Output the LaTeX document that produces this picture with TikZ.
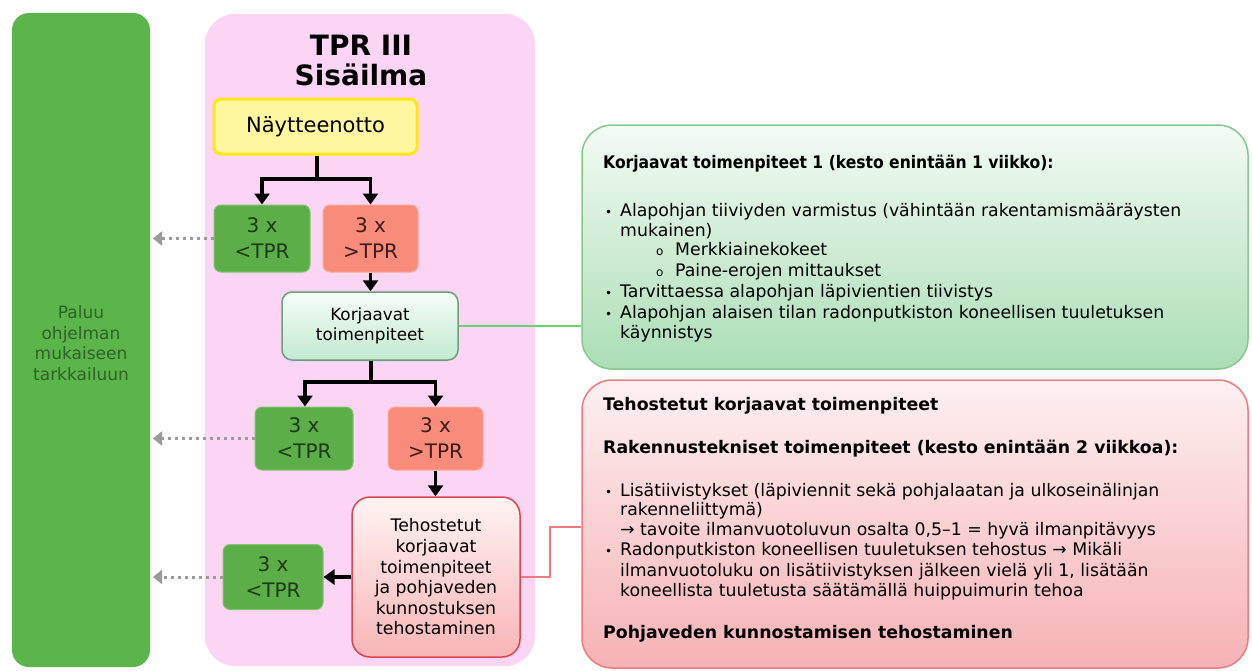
\documentclass[tikz,border=0pt]{standalone}
\usepackage{fontspec}
\setmainfont{DejaVu Sans}
\newfontfamily\hfont[FakeStretch=0.9]{DejaVu Sans}
\usetikzlibrary{arrows.meta}
\definecolor{pinkbg}{HTML}{FBD5F3}
\definecolor{colgreen}{HTML}{5CB54A}
\definecolor{coltext}{HTML}{2F6128}
\definecolor{boxgreen}{HTML}{5BAE48}
\definecolor{boxgreenline}{HTML}{80C66E}
\definecolor{boxred}{HTML}{F98B7B}
\definecolor{boxredline}{HTML}{FBA898}
\definecolor{gtext}{HTML}{1E3A18}
\definecolor{rtext}{HTML}{3B1C17}
\definecolor{yfill}{HTML}{FFF6A0}
\definecolor{yline}{HTML}{FFE619}
\definecolor{korTop}{HTML}{F6FDF8}
\definecolor{korBot}{HTML}{C2EAD1}
\definecolor{korLine}{HTML}{6E9E7E}
\definecolor{tehTop}{HTML}{FFF3F3}
\definecolor{tehBot}{HTML}{F8B5B6}
\definecolor{tehLine}{HTML}{D8454F}
\definecolor{gpTop}{HTML}{F3FBF5}
\definecolor{gpBot}{HTML}{ABDEB5}
\definecolor{gpLine}{HTML}{86C88E}
\definecolor{rpTop}{HTML}{FDF0F1}
\definecolor{rpBot}{HTML}{F6B2B5}
\definecolor{rpLine}{HTML}{EE7B7F}
\definecolor{dotgray}{HTML}{9A9A9A}
\tikzset{
  flow/.style={line width=3.2pt, draw=black, -{Triangle[length=11pt,width=15pt]}},
  flowline/.style={line width=3.2pt, draw=black},
  back/.style={line width=3pt, draw=dotgray, dash pattern=on 3pt off 4pt, -{Triangle[length=9pt,width=14pt,fill=dotgray]}},
  gbox/.style={fill=boxgreen, draw=boxgreenline, line width=1pt, rounded corners=7pt, align=center, text=gtext, font=\fontsize{20}{26}\selectfont, inner sep=0pt},
  rbox/.style={fill=boxred, draw=boxredline, line width=1pt, rounded corners=7pt, align=center, text=rtext, font=\fontsize{20}{26}\selectfont, inner sep=0pt},
  tx/.style={anchor=base west, inner sep=0pt, font=\fontsize{17.3}{20.5}\selectfont, text=black},
  hd/.style={anchor=base west, inner sep=0pt, font=\fontsize{17.3}{20.5}\bfseries, text=black},
  hdn/.style={anchor=base west, inner sep=0pt, font=\fontsize{17.3}{20.5}\hfont\bfseries, text=black},
  bl/.style={anchor=base west, inner sep=0pt, font=\fontsize{12}{14}\selectfont, text=black},
}
\begin{document}
\begin{tikzpicture}[x=1pt,y=-1pt]
\useasboundingbox (0,0) rectangle (1252,670);
\fill[white] (0,0) rectangle (1252,670);
% left column
\node[fill=colgreen, rounded corners=17pt, minimum width=138pt, minimum height=654pt, inner sep=0pt] (col) at (81,340) {};
\node[align=center, text=coltext, font=\fontsize{17}{20.5}\selectfont, inner sep=0pt] (coltxt) at (81,343) {Paluu\\ohjelman\\mukaiseen\\tarkkailuun};
% pink background
\node[fill=pinkbg, rounded corners=30pt, minimum width=330pt, minimum height=652pt, inner sep=0pt] (pink) at (370,340) {};
\node[align=center, font=\fontsize{28}{30}\bfseries, inner sep=0pt] (title) at (361,60) {TPR III\\Sisäilma};
% flow nodes
\node[fill=yfill, draw=yline, line width=3pt, rounded corners=7pt, minimum width=203pt, minimum height=55pt, inner sep=0pt, font=\fontsize{21}{25}\selectfont] (nayt) at (315.5,126.5) {Näytteenotto};
\node[gbox, minimum width=96pt, minimum height=67pt] (g1) at (262,238.5) {3 x\\<TPR};
\node[rbox, minimum width=95pt, minimum height=67pt] (r1) at (370.5,238.5) {3 x\\>TPR};
\node[top color=korTop, bottom color=korBot, draw=korLine, line width=1.5pt, rounded corners=10pt, minimum width=176pt, minimum height=68pt, inner sep=0pt, align=center, font=\fontsize{16.8}{20}\selectfont] (kor) at (370,326) {Korjaavat\\toimenpiteet};
\node[gbox, minimum width=98pt, minimum height=63pt] (g2) at (304,438.5) {3 x\\<TPR};
\node[rbox, minimum width=95pt, minimum height=63pt] (r2) at (435.5,438.5) {3 x\\>TPR};
\node[top color=tehTop, bottom color=tehBot, draw=tehLine, line width=1.5pt, rounded corners=18pt, minimum width=168pt, minimum height=160pt, inner sep=0pt, align=center, font=\fontsize{17.3}{20.6}\selectfont] (teh) at (436,577) {Tehostetut\\korjaavat\\toimenpiteet\\ja pohjaveden\\kunnostuksen\\tehostaminen};
\node[gbox, minimum width=100pt, minimum height=65pt] (g3) at (273,577) {3 x\\<TPR};
% right panels
\node[top color=gpTop, bottom color=gpBot, draw=gpLine, line width=1.5pt, rounded corners=30pt, minimum width=666pt, minimum height=244pt, inner sep=0pt] (gp) at (915,247) {};
\node[top color=rpTop, bottom color=rpBot, draw=rpLine, line width=1.5pt, rounded corners=30pt, minimum width=666pt, minimum height=288pt, inner sep=0pt] (rp) at (915,524) {};
% flow connectors
\coordinate (s1) at (317,179);
\draw[flowline] (nayt.south -| s1) -- (s1);
\draw[flow] (s1) -| (g1.north);
\draw[flow] (s1) -| (r1.north);
\draw[flow] (r1.south) -- (kor.north -| r1.south);
\coordinate (s2) at (371,382);
\draw[flowline] (kor.south -| s2) -- (s2);
\draw[flow] (s2) -| (g2.north -| 305,0);
\draw[flow] (s2) -| (r2.north);
\draw[flow] (r2.south) -- (teh.north -| r2.south);
\draw[flow] (teh.west) -- (g3.east);
% return arrows
\draw[back] (g1.west) -- (g1.west -| 153,0);
\draw[back] (g2.west) -- (g2.west -| 153,0);
\draw[back] (g3.west) -- (g3.west -| 153,0);
% panel links
\draw[draw=gpLine!80!green, line width=1.5pt] (kor.east) -- (kor.east -| gp.west);
\coordinate (rj) at (550,527);
\draw[draw=rpLine, line width=1.5pt] (teh.east) -- (teh.east -| rj) -- (rj) -- (rj -| rp.west);
% green panel text
\node[hdn] (gh) at (603,168) {Korjaavat toimenpiteet 1 (kesto enintään 1 viikko):};
\node[bl] (gb1) at (605,216) {•};
\node[tx] (gt1) at (620,216) {Alapohjan tiiviyden varmistus (vähintään rakentamismääräysten};
\node[tx] (gt2) at (620,236) {mukainen)};
\node[bl] (go1) at (656,255) {o};
\node[tx] (gt3) at (675,255) {Merkkiainekokeet};
\node[bl] (go2) at (656,276) {o};
\node[tx] (gt4) at (675,276) {Paine-erojen mittaukset};
\node[bl] (gb2) at (605,297) {•};
\node[tx] (gt5) at (620,297) {Tarvittaessa alapohjan läpivientien tiivistys};
\node[bl] (gb3) at (605,318) {•};
\node[tx] (gt6) at (620,318) {Alapohjan alaisen tilan radonputkiston koneellisen tuuletuksen};
\node[tx] (gt7) at (620,338) {käynnistys};
% red panel text
\node[hd] (rh1) at (603,410) {Tehostetut korjaavat toimenpiteet};
\node[hd] (rh2) at (603,453) {Rakennustekniset toimenpiteet (kesto enintään 2 viikkoa):};
\node[bl] (rb1) at (605,496) {•};
\node[tx] (rt1) at (620,496) {Lisätiivistykset (läpiviennit sekä pohjalaatan ja ulkoseinälinjan};
\node[tx] (rt2) at (620,515) {rakenneliittymä)};
\node[tx] (rt3) at (620,535) {→ tavoite ilmanvuotoluvun osalta 0,5–1 = hyvä ilmanpitävyys};
\node[bl] (rb2) at (605,555) {•};
\node[tx] (rt4) at (620,555) {Radonputkiston koneellisen tuuletuksen tehostus → Mikäli};
\node[tx] (rt5) at (620,576) {ilmanvuotoluku on lisätiivistyksen jälkeen vielä yli 1, lisätään};
\node[tx] (rt6) at (620,596) {koneellista tuuletusta säätämällä huippuimurin tehoa};
\node[hd] (rh3) at (603,638) {Pohjaveden kunnostamisen tehostaminen};
\end{tikzpicture}
\end{document}
